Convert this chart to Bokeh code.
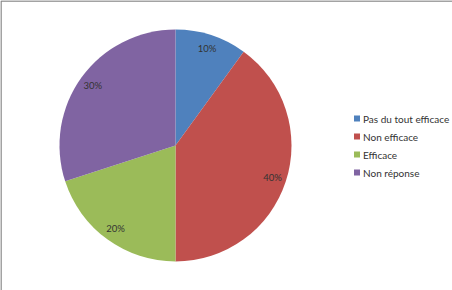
import math
from bokeh.plotting import figure
from bokeh.models import ColumnDataSource, Range1d
from bokeh.core.properties import value
from bokeh.embed import file_html
from bokeh.resources import INLINE

categories = ["Pas du tout efficace", "Non efficace", "Efficace", "Non réponse"]
shares = [10, 40, 20, 30]
colors = ["#4F81BD", "#C0504D", "#9BBB59", "#8064A2"]

W, H = 452, 290
cx, cy, R = 175, H - 145, 116

starts, ends, lx, ly = [], [], [], []
a = 90.0
total = sum(shares)
for s in shares:
    sweep = 360.0 * s / total
    starts.append(math.radians(a))
    ends.append(math.radians(a - sweep))
    mid = math.radians(a - sweep / 2)
    lx.append(cx + 0.88 * R * math.cos(mid))
    ly.append(cy + 0.88 * R * math.sin(mid))
    a -= sweep

p = figure(width=W, height=H, output_backend="svg", toolbar_location=None,
           x_range=Range1d(0, W), y_range=Range1d(0, H), min_border=0)
p.axis.visible = False
p.grid.visible = False
p.outline_line_color = None
p.background_fill_color = "white"

src = ColumnDataSource(dict(start=starts, end=ends, color=colors, cat=categories,
                            lx=lx, ly=ly, lab=[f"{s}%" for s in shares]))
p.wedge(x=cx, y=cy, radius=R, start_angle="start", end_angle="end",
        direction="clock", fill_color="color", line_color=None, source=src)
p.text(x="lx", y="ly", text="lab", source=src, text_align="center", text_baseline="middle",
       text_font=value("Lato"), text_font_size="9.5px", text_color="#333333")

# legend
leg_y = [H - 118 - 18 * i for i in range(len(categories))]
p.rect(x=[356.5] * len(categories), y=leg_y, width=6, height=6, fill_color=colors, line_color=None)
p.text(x=[362.5] * len(categories), y=leg_y, text=categories, text_baseline="middle",
       text_font=value("Lato"), text_font_size="10px", text_color="#333333")

# chart border (top and left visible)
p.line(x=[0.5, 0.5, W], y=[0, H - 0.5, H - 0.5], line_color="#858585", line_width=1.5)

open("out.html", "w").write(file_html(p, INLINE))
